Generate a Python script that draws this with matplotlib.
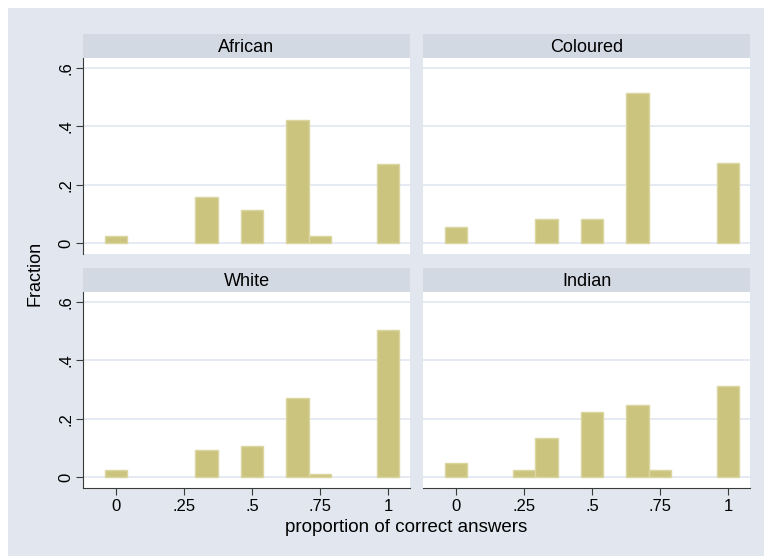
import numpy as np
import matplotlib
matplotlib.use("Agg")
import matplotlib.pyplot as plt
from matplotlib.patches import Rectangle

plt.rcParams['font.family'] = ['Liberation Sans', 'DejaVu Sans']

# bin centres of the histogram (proportion of correct answers)
bins = [0, 0.25, 1/3, 0.5, 2/3, 0.75, 1]
groups = ["African", "Coloured", "White", "Indian"]
african = [0.025, 0, 0.158, 0.114, 0.423, 0.025, 0.270]
coloured = [0.057, 0, 0.084, 0.084, 0.515, 0, 0.273]
white = [0.026, 0, 0.094, 0.107, 0.271, 0.012, 0.505]
indian = [0.048, 0.025, 0.135, 0.224, 0.246, 0.025, 0.312]
xticks = [0, 0.25, 0.5, 0.75, 1]
xticklabels = ["0", ".25", ".5", ".75", "1"]
yticks = [0, 0.2, 0.4, 0.6]
yticklabels = ["0", ".2", ".4", ".6"]

bg = '#e1e6ef'
strip_col = '#d3d9e3'
bar_col = '#cbc47f'
bar_edge = '#dbd5a0'
grid_col = '#e2e6f0'
dark = '#3a3a3a'

W, H = 764, 556
fig = plt.figure(figsize=(W / 100, H / 100), dpi=100, facecolor='white')
fig.patches.append(Rectangle((8 / W, 0), 1 - 8 / W, 1 - 8 / H, transform=fig.transFigure,
                             facecolor=bg, edgecolor='none', zorder=-10))

lefts = [83, 423]
tops = [58, 292]
pw, ph, sh = 327, 196, 24
data = [african, coloured, white, indian]

for k, (name, vals) in enumerate(zip(groups, data)):
    r, c = divmod(k, 2)
    x0, y0 = lefts[c], tops[r]
    ax = fig.add_axes([x0 / W, 1 - (y0 + ph) / H, pw / W, ph / H])
    ax.set_facecolor('white')
    sax = fig.add_axes([x0 / W, 1 - y0 / H, pw / W, sh / H])
    sax.set_facecolor(strip_col)
    sax.set_xticks([])
    sax.set_yticks([])
    for s in sax.spines.values():
        s.set_visible(False)
    sax.text(0.5, 0.45, name, ha='center', va='center', fontsize=13, transform=sax.transAxes)

    xs = [b for b, v in zip(bins, vals) if v > 0]
    hs = [v for v in vals if v > 0]
    ax.bar(xs, hs, width=1 / 12, color=bar_col, edgecolor=bar_edge, linewidth=1, zorder=3)
    for yt in yticks:
        ax.axhline(yt, color=grid_col, lw=1.2, zorder=1)

    ax.set_xlim(-0.121, 1.081)
    ax.set_ylim(-0.036, 0.633)
    for s in ax.spines.values():
        s.set_visible(False)
    ax.set_xticks(xticks)
    ax.set_yticks(yticks)
    if c == 0:
        ax.spines['left'].set_visible(True)
        ax.spines['left'].set_color(dark)
        ax.set_yticklabels(yticklabels, rotation=90, va='center')
        ax.tick_params(axis='y', length=5, color=dark, pad=2, labelsize=12)
    else:
        ax.tick_params(axis='y', left=False, labelleft=False)
    if r == 1:
        ax.spines['bottom'].set_visible(True)
        ax.spines['bottom'].set_color(dark)
        ax.set_xticklabels(xticklabels)
        ax.tick_params(axis='x', length=5, color=dark, pad=3, labelsize=12)
    else:
        ax.tick_params(axis='x', bottom=False, labelbottom=False)

fig.text(35 / W, 1 - 273 / H, "Fraction", rotation=90, ha='center', va='center', fontsize=13)
fig.text(406 / W, 1 - 528 / H, "proportion of correct answers", ha='center', va='center', fontsize=13.5)

fig.savefig("out.png", dpi=100, facecolor='white')
